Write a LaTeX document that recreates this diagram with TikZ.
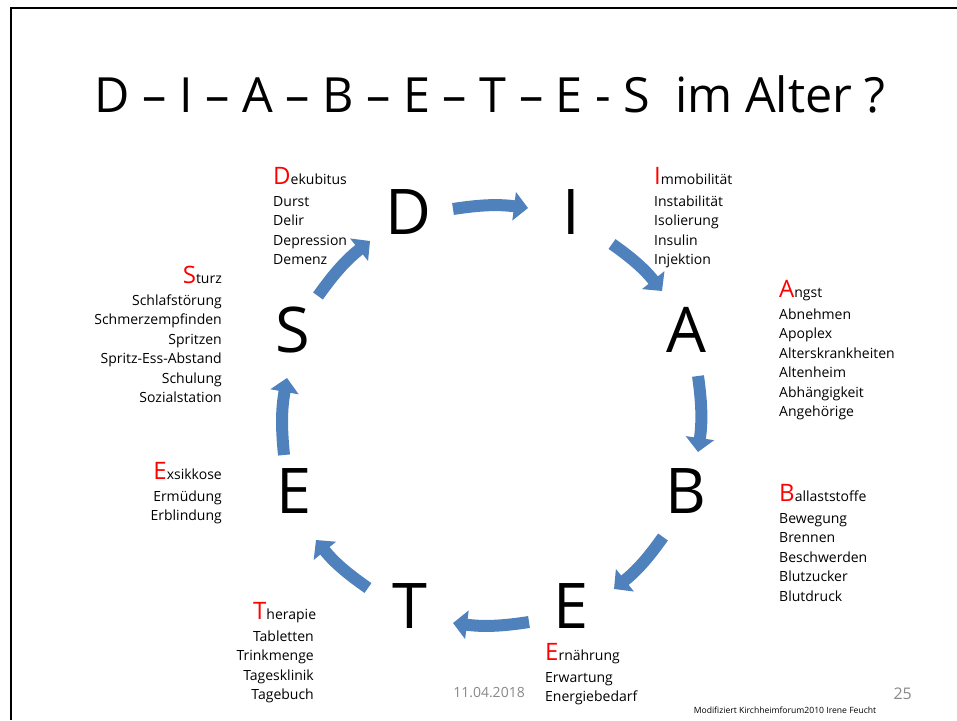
\documentclass[tikz,border=0pt]{standalone}
\usepackage{fontspec}
\setmainfont{Open Sans}
\usetikzlibrary{arrows.meta}
\definecolor{arrowblue}{RGB}{79,129,189}
\definecolor{footgray}{RGB}{137,137,137}
\newcommand\fs[1]{\fontsize{#1}{#1}\selectfont}
\newcommand\hdr[2]{{\fs{24}\textcolor{red}{#1}}#2}
\begin{document}
\begin{tikzpicture}[x=1pt,y=-1pt,
  big/.style={font=\fs{63}, anchor=base, inner sep=0pt},
  itm/.style={font=\fs{14}, inner sep=0pt},
  flow/.style={draw=arrowblue, line width=12pt, -{Triangle[width=28pt,length=14pt]}},
  frame/.style={line width=2.5pt, black}]
\useasboundingbox (0,0) rectangle (957,720);
\fill[white] (0,0) rectangle (957,720);
\draw[frame] (11,720) -- (11,8) -- (957,8);

% title
\node[font=\fs{48.5}, anchor=base, inner sep=0pt] (title) at (490,112) {D – I – A – B – E – T – E - S\hspace{0.25em} im Alter ?};

% big letters
\node[big] (D) at (408,234) {D};
\node[big] (I) at (571,234) {I};
\node[big] (A) at (686,352) {A};
\node[big] (B) at (686,513) {B};
\node[big] (E1) at (571,628) {E};
\node[big] (T) at (410,628) {T};
\node[big] (E2) at (294,513) {E};
\node[big] (S) at (293,352) {S};

% arrows
\coordinate (a1s) at (453,209); \coordinate (a1e) at (528,208);
\coordinate (a2s) at (612,244); \coordinate (a2e) at (662,291);
\coordinate (a3s) at (698,376); \coordinate (a3e) at (698,452);
\coordinate (a4s) at (663,537); \coordinate (a4e) at (614,589);
\coordinate (a5s) at (529,622); \coordinate (a5e) at (453,623);
\coordinate (a6s) at (368,588); \coordinate (a6e) at (316,540);
\coordinate (a7s) at (284,455); \coordinate (a7e) at (287,378);
\coordinate (a8s) at (318,296); \coordinate (a8e) at (370,241);
\foreach \k in {1,...,8}
  \draw[flow] (a\k s) to[bend left=8] (a\k e);

% D list
\node[itm, anchor=base west] (dh) at (273,184) {\hdr{D}{ekubitus}};
\foreach \t [count=\i] in {Durst,Delir,Depression,Demenz}
  \node[itm, anchor=base west] (d\i) at (273,{206.5+(\i-1)*19.4}) {\t};
% I list
\node[itm, anchor=base west] (ih) at (654,184) {\hdr{I}{mmobilität}};
\foreach \t [count=\i] in {Instabilität,Isolierung,Insulin,Injektion}
  \node[itm, anchor=base west] (i\i) at (654,{206.5+(\i-1)*19.4}) {\t};
% A list
\node[itm, anchor=base west] (ah) at (779,297) {\hdr{A}{ngst}};
\foreach \t [count=\i] in {Abnehmen,Apoplex,Alterskrankheiten,Altenheim,Abhängigkeit,Angehörige}
  \node[itm, anchor=base west] (a\i) at (779,{319.5+(\i-1)*19.4}) {\t};
% B list
\node[itm, anchor=base west] (bh) at (779,501) {\hdr{B}{allaststoffe}};
\foreach \t [count=\i] in {Bewegung,Brennen,Beschwerden,Blutzucker,Blutdruck}
  \node[itm, anchor=base west] (b\i) at (779,{523.5+(\i-1)*19.4}) {\t};
% E (bottom) list
\node[itm, anchor=base west] (eh) at (545,660) {\hdr{E}{rnährung}};
\foreach \t [count=\i] in {Erwartung,Energiebedarf}
  \node[itm, anchor=base west] (e\i) at (545,{682.5+(\i-1)*19.4}) {\t};
% T list
\node[itm, anchor=base west] (th) at (253,619) {\hdr{T}{herapie}};
\foreach \t [count=\i] in {Tabletten,Trinkmenge,Tagesklinik,Tagebuch}
  \node[itm, anchor=base east] (t\i) at (314,{641.5+(\i-1)*19.4}) {\t};
% E (left) list
\node[itm, anchor=base east] (xh) at (222,479) {\hdr{E}{xsikkose}};
\foreach \t [count=\i] in {Ermüdung,Erblindung}
  \node[itm, anchor=base east] (x\i) at (222,{501.5+(\i-1)*19.4}) {\t};
% S list
\node[itm, anchor=base east] (sh) at (222,283) {\hdr{S}{turz}};
\foreach \t [count=\i] in {Schlafstörung,Schmerzempfinden,Spritzen,Spritz-Ess-Abstand,Schulung,Sozialstation}
  \node[itm, anchor=base east] (s\i) at (222,{305.5+(\i-1)*19.4}) {\t};

% footer
\node[font=\fs{14}, text=footgray, anchor=base, inner sep=0pt] (date) at (489,697) {11.04.2018};
\node[font=\fs{16}, text=footgray, anchor=base east, inner sep=0pt] (page) at (912,699) {25};
\node[font=\fs{8.6}, anchor=base, inner sep=0pt] (credit) at (785,713) {Modifiziert Kirchheimforum2010 Irene Feucht};
\end{tikzpicture}
\end{document}
